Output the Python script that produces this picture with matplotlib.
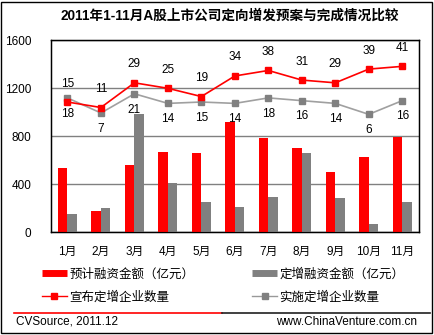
import matplotlib
matplotlib.use("Agg")
import matplotlib.pyplot as plt
import numpy as np
from matplotlib.lines import Line2D
from matplotlib.patches import Rectangle

plt.rcParams['font.family'] = ['Liberation Sans', 'Noto Sans CJK SC', 'DejaVu Sans']

months = ['1月', '2月', '3月', '4月', '5月', '6月', '7月', '8月', '9月', '10月', '11月']
planned_amount = [540, 178, 561, 670, 661, 923, 789, 703, 503, 628, 795]   # 预计融资金额
done_amount = [153, 203, 987, 411, 253, 214, 297, 661, 289, 72, 253]       # 定增融资金额
announced_cnt = [15, 11, 29, 25, 19, 34, 38, 31, 29, 39, 41]               # 宣布定增企业数量
done_cnt = [18, 7, 21, 14, 15, 14, 18, 16, 14, 6, 16]                       # 实施定增企业数量

W, H = 435, 335
fig = plt.figure(figsize=(W / 100, H / 100), dpi=100)

def fx(px):
    return px / W

def fy(py):
    return 1 - py / H

# outer border
fig.patches.append(Rectangle((fx(1.5), fy(332.5)), fx(431), 1 - fy(331), transform=fig.transFigure,
                             fill=False, edgecolor='black', linewidth=1))

left, right, top, bottom = 50.7, 419, 40.3, 232.3
ax = fig.add_axes([fx(left), fy(bottom), fx(right - left), fy(top) - fy(bottom)])

x = np.arange(len(months))
bw = 0.285
ax.bar(x - bw / 2, planned_amount, width=bw, color='#ff0000', zorder=3)
ax.bar(x + bw / 2, done_amount, width=bw, color='#808080', zorder=3)
ax.set_ylim(0, 1600)
ax.set_xlim(-0.5, len(months) - 0.5)
ax.set_yticks([0, 400, 800, 1200, 1600])
ax.set_xticks(x)
ax.set_xticklabels(months)
ax.tick_params(length=0, labelsize=8.5, pad=10)
ax.tick_params(axis='y', pad=14)
ax.yaxis.grid(True, color='#808080', linewidth=1)
ax.set_axisbelow(True)
for s in ax.spines.values():
    s.set_color('black')
    s.set_linewidth(1)

ax2 = ax.twinx()
ax2.set_ylim(-80, 60)
ax2.set_yticks([])
ax2.plot(x, done_cnt, color='#a0a0a0', linewidth=1.2, marker='s', markersize=5,
         markerfacecolor='#808080', markeredgecolor='#808080')
ax2.plot(x, announced_cnt, color='#ff0000', linewidth=1.2, marker='s', markersize=5,
         markerfacecolor='#ff0000', markeredgecolor='#ff0000')
for xi, v in zip(x, announced_cnt):
    ax2.annotate(str(v), (xi, v), xytext=(0, 9), textcoords='offset points',
                 ha='center', va='bottom', fontsize=8.5)
for xi, v in zip(x, done_cnt):
    ax2.annotate(str(v), (xi, v), xytext=(0, -7), textcoords='offset points',
                 ha='center', va='top', fontsize=8.5)

# title
fig.text(fx(230), fy(16), '2011年1-11月A股上市公司定向增发预案与完成情况比较',
         ha='center', va='center', fontsize=9.8, fontweight='bold')

# legend
handles = [
    Line2D([], [], color='#ff0000', linewidth=5, solid_capstyle='butt'),
    Line2D([], [], color='#ff0000', linewidth=1, marker='s', markersize=4),
    Line2D([], [], color='#808080', linewidth=5, solid_capstyle='butt'),
    Line2D([], [], color='#999999', linewidth=1, marker='s', markersize=4,
           markerfacecolor='#808080', markeredgecolor='#808080'),
]
labels = ['预计融资金额（亿元）', '宣布定增企业数量', '定增融资金额（亿元）', '实施定增企业数量']
fig.legend(handles, labels, ncol=2, loc='upper left', bbox_to_anchor=(fx(37), fy(263)),
           frameon=False, fontsize=9, handlelength=2.0, handletextpad=0.2,
           columnspacing=4.6, labelspacing=0.85, borderaxespad=0)

# footer line
fig.add_artist(Line2D([fx(14), fx(222)], [fy(313.3), fy(313.3)], color='#ff0000', linewidth=1.2))
fig.add_artist(Line2D([fx(222), fx(430)], [fy(313.3), fy(313.3)], color='#202020', linewidth=1.2))
fig.text(fx(16), fy(322), 'CVSource, 2011.12', ha='left', va='center', fontsize=8.5)
fig.text(fx(417), fy(322), 'www.ChinaVenture.com.cn', ha='right', va='center', fontsize=8.5)

fig.savefig('out.png', dpi=100)
